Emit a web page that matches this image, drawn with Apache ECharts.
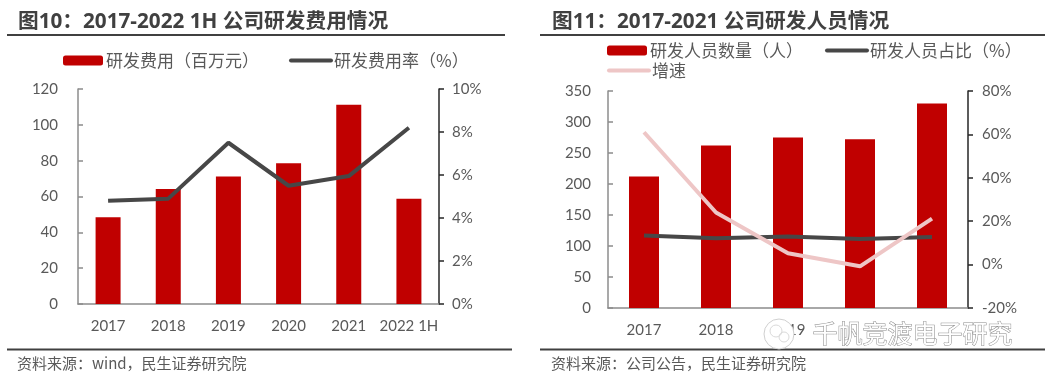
<!DOCTYPE html>
<html>
<head>
<meta charset="utf-8">
<script src="https://cdn.jsdelivr.net/npm/echarts@6/dist/echarts.min.js"></script>
<style>
html,body{margin:0;padding:0;background:#fff;}
#c{width:1053px;height:383px;}
</style>
</head>
<body>
<div id="c"></div>
<script>
// Chart 1 data
var cat1 = ['2017', '2018', '2019', '2020', '2021', '2022 1H'];
var rdExpense = [48.4, 64.2, 71.1, 78.6, 111.2, 58.7];        // 百万元
var rdRate = [4.8, 4.9, 7.5, 5.5, 5.95, 8.2];                  // %
var leftTicks1 = [0, 120, 20];   // min, max, interval
var rightTicks1 = [0, 10, 2];

// Chart 2 data
var cat2 = ['2017', '2018', '2019', '2020', '2021'];
var staffCount = [212, 262, 275, 272, 330];                    // 人
var staffShare = [13.4, 12.1, 13.0, 11.8, 12.7];               // %
var staffGrowth = [61.0, 24.0, 5.2, -0.8, 21.2];               // %
var leftTicks2 = [0, 350, 50];
var rightTicks2 = [-20, 80, 20];

var title1 = '图10：2017-2022 1H 公司研发费用情况';
var title2 = '图11：2017-2021 公司研发人员情况';
var source1 = '资料来源：wind，民生证券研究院';
var source2 = '资料来源：公司公告，民生证券研究院';
var watermark = '千帆竞渡电子研究';

var RED = '#C00000', DARK = '#474747', PINK = '#EEC6C6', LBL = '#595959';
var NUMFONT = 'Lato, "Noto Sans CJK SC", sans-serif';
var CJK = '"Noto Sans CJK SC", sans-serif';

var chart = echarts.init(document.getElementById('c'));

function yAx(gi, pos, t, fmt, lineColor, inside, margin) {
  return {
    type: 'value', gridIndex: gi, position: pos,
    min: t[0], max: t[1], interval: t[2],
    splitLine: {show: false},
    axisLine: {show: true, lineStyle: {color: lineColor, width: 1.5}},
    axisTick: {show: true, inside: inside, length: 5, lineStyle: {color: lineColor, width: 1.5}},
    axisLabel: {color: LBL, fontSize: 15, fontFamily: NUMFONT, margin: margin, formatter: fmt}
  };
}
function xAx(gi, cats, margin) {
  return {
    type: 'category', gridIndex: gi, data: cats,
    axisLine: {show: true, lineStyle: {color: '#8C8C8C', width: 1.5}},
    axisTick: {show: false},
    axisLabel: {color: LBL, fontSize: 15, fontFamily: NUMFONT, margin: margin, interval: 0}
  };
}
var legText = {color: LBL, fontSize: 17, fontFamily: CJK, padding: [0, 0, 0, -2]};
function lineItem(name) {
  return {name: name, itemStyle: {opacity: 0}, lineStyle: {width: 4, cap: 'round'}};
}

var option = {
  animation: false,
  backgroundColor: '#fff',
  grid: [
    {left: 78, top: 89, width: 361, height: 215},
    {left: 608, top: 91, width: 360, height: 217}
  ],
  xAxis: [xAx(0, cat1, 15), xAx(1, cat2, 15)],
  yAxis: [
    yAx(0, 'left', leftTicks1, '{value}', '#8C8C8C', true, 20),
    yAx(0, 'right', rightTicks1, '{value}%', '#262626', false, 13),
    yAx(1, 'left', leftTicks2, '{value}', '#8C8C8C', true, 17),
    yAx(1, 'right', rightTicks2, '{value}%', '#262626', false, 14)
  ],
  legend: [
    {
      data: ['研发费用（百万元）', lineItem('研发费用率（%）')],
      left: 63, top: 52, padding: 0, itemWidth: 40, itemHeight: 10, itemGap: 30,
      textStyle: legText
    },
    {
      data: ['研发人员数量（人）', lineItem('研发人员占比（%）')],
      left: 607, top: 42, padding: 0, itemWidth: 40, itemHeight: 10, itemGap: 22,
      textStyle: legText
    },
    {
      data: [lineItem('增速')],
      left: 607, top: 62, padding: 0, itemWidth: 40, itemHeight: 10,
      textStyle: legText
    }
  ],
  series: [
    {name: '研发费用（百万元）', type: 'bar', xAxisIndex: 0, yAxisIndex: 0, data: rdExpense,
     barWidth: 25, itemStyle: {color: RED}},
    {name: '研发费用率（%）', type: 'line', xAxisIndex: 0, yAxisIndex: 1, data: rdRate,
     symbol: 'none', lineStyle: {color: DARK, width: 4}, itemStyle: {color: DARK}},
    {name: '研发人员数量（人）', type: 'bar', xAxisIndex: 1, yAxisIndex: 2, data: staffCount,
     barWidth: 30, itemStyle: {color: RED}},
    {name: '研发人员占比（%）', type: 'line', xAxisIndex: 1, yAxisIndex: 3, data: staffShare,
     symbol: 'none', lineStyle: {color: DARK, width: 4}, itemStyle: {color: DARK}, z: 3},
    {name: '增速', type: 'line', xAxisIndex: 1, yAxisIndex: 3, data: staffGrowth,
     symbol: 'none', lineStyle: {color: PINK, width: 4}, itemStyle: {color: PINK}, z: 4}
  ],
  graphic: [
    {type: 'text', left: 18, top: 12, style: {text: title1, fill: '#404040', font: 'bold 20.7px "Open Sans", "Noto Sans CJK SC", sans-serif'}},
    {type: 'text', left: 552, top: 12, style: {text: title2, fill: '#404040', font: 'bold 20.7px "Open Sans", "Noto Sans CJK SC", sans-serif'}},
    {type: 'rect', shape: {x: 7, y: 34, width: 498, height: 2}, style: {fill: '#404040'}},
    {type: 'rect', shape: {x: 540, y: 34, width: 505, height: 2}, style: {fill: '#404040'}},
    {type: 'rect', shape: {x: 7, y: 348.5, width: 505, height: 2}, style: {fill: '#404040'}},
    {type: 'rect', shape: {x: 540, y: 348.5, width: 505, height: 2}, style: {fill: '#404040'}},
    {type: 'text', left: 17, top: 356, style: {text: source1, fill: LBL, font: '15px "Noto Sans CJK SC", sans-serif'}},
    {type: 'text', left: 551, top: 356, style: {text: source2, fill: LBL, font: '15px "Noto Sans CJK SC", sans-serif'}},
    // watermark
    {type: 'rect', shape: {x: 806, y: 317, width: 216, height: 31}, style: {fill: '#fff'}, z: 99},
    {type: 'circle', shape: {cx: 779, cy: 334, r: 15}, style: {fill: '#fff', stroke: '#D0D0D0', lineWidth: 1}, z: 100},
    {type: 'circle', shape: {cx: 776, cy: 331, r: 6}, style: {fill: 'none', stroke: '#DADADA', lineWidth: 1}, z: 101},
    {type: 'circle', shape: {cx: 784, cy: 337, r: 5}, style: {fill: 'none', stroke: '#DADADA', lineWidth: 1}, z: 101},
    {type: 'text', left: 812, top: 320, style: {text: watermark, fill: '#fff', stroke: '#8a8a8a', lineWidth: 1, font: '25px "Noto Sans CJK SC", sans-serif'}, z: 100}
  ]
};
chart.setOption(option);
</script>
</body>
</html>
